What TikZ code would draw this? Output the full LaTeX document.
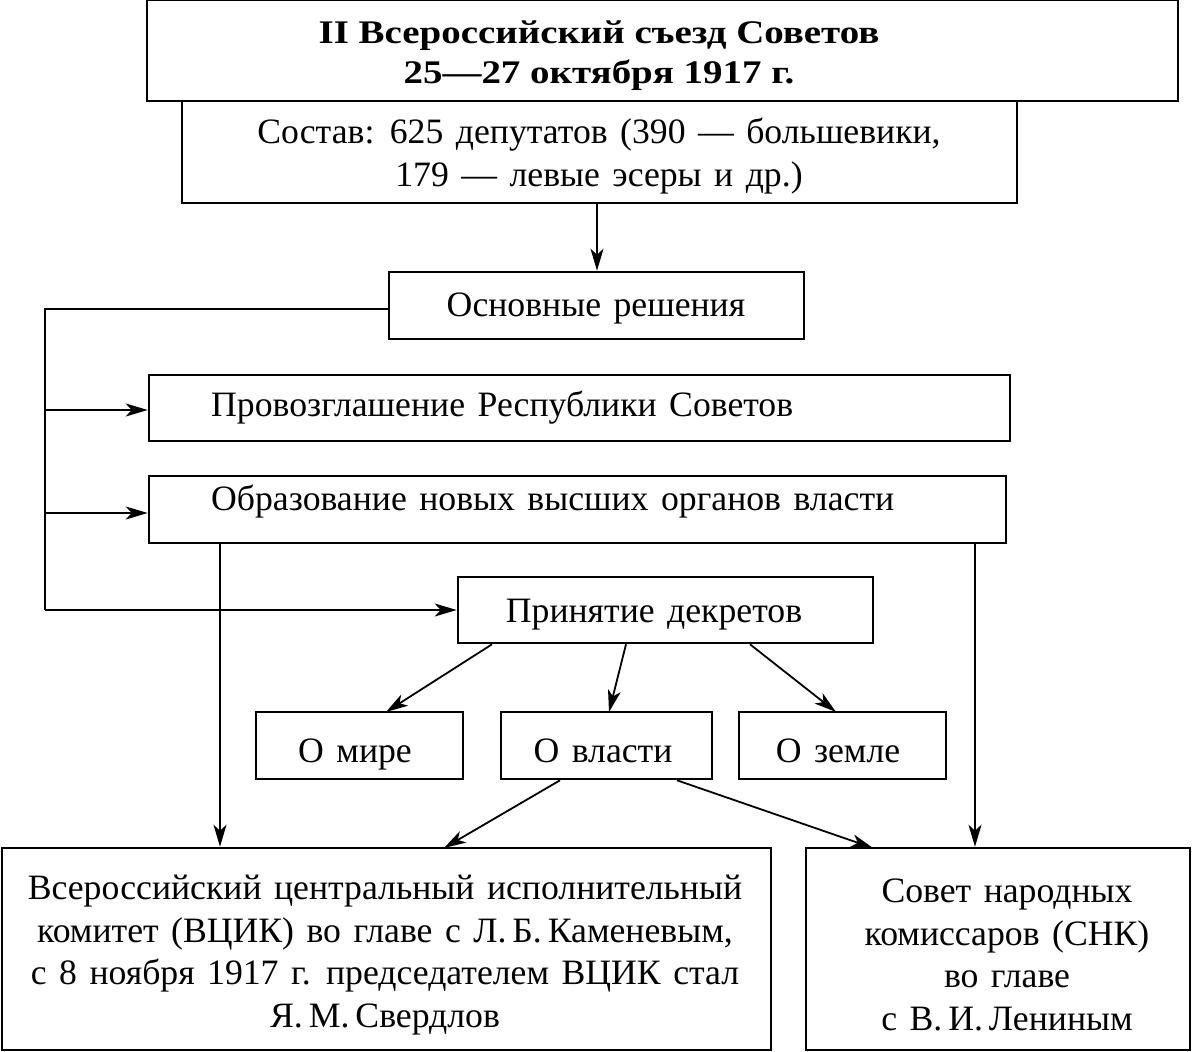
\documentclass[tikz,border=0pt]{standalone}
\usepackage{fontspec}
\setmainfont{Liberation Serif}[WordSpace=1.4]
\newfontfamily\titlefont{Liberation Serif}[FakeStretch=1.18,Ligatures=TeX]
\usetikzlibrary{arrows.meta}
\begin{document}
\begin{tikzpicture}[x=1pt,y=-1pt,
  box/.style={draw,line width=2.6pt,inner sep=0pt,align=center},
  lbl/.style={inner sep=0pt,align=center,font=\fontsize{35.7}{42.5}\selectfont},
  conn/.style={line width=1.8pt,-{Stealth[length=22pt,width=13pt,inset=6pt]}},
  plain/.style={line width=1.8pt}]
\useasboundingbox (0,0) rectangle (1192,1052);
% boxes
\node[box,minimum width=1031pt,minimum height=101pt] (title) at (662.5,50.5) {};
\node[lbl,font=\fontsize{33}{40}\titlefont\bfseries] (titlet) at (599,56) {II Всероссийский съезд Советов\\25—27 октября 1917 г.};
\node[box,minimum width=835pt,minimum height=102pt] (sost) at (599.5,152) {};
\node[lbl] (sostt) at (599,156) {Состав: 625 депутатов (390 --- большевики,\\179 --- левые эсеры и др.)};
\node[box,minimum width=415pt,minimum height=67pt] (osn) at (596.5,305.5) {};
\node[lbl,anchor=base] (osnt) at (596,316) {Основные решения};
\node[box,minimum width=861pt,minimum height=66pt] (prov) at (579.5,408) {};
\node[lbl,anchor=base west] (provt) at (211,416) {Провозглашение Республики Советов};
\node[box,minimum width=857pt,minimum height=67pt] (obr) at (577.5,509.5) {};
\node[lbl,anchor=base west] (obrt) at (211,510) {Образование новых высших органов власти};
\node[box,minimum width=415pt,minimum height=66pt] (prin) at (665.5,610) {};
\node[lbl,anchor=base] (print) at (654,622) {Принятие декретов};
\node[box,minimum width=207pt,minimum height=67pt] (mir) at (359.5,745.5) {};
\node[lbl,anchor=base] (mirt) at (355,762) {О мире};
\node[box,minimum width=211pt,minimum height=67pt] (vl) at (606.5,745.5) {};
\node[lbl,anchor=base] (vlt) at (603,762) {О власти};
\node[box,minimum width=207pt,minimum height=67pt] (zem) at (842.5,745.5) {};
\node[lbl,anchor=base] (zemt) at (838,762) {О земле};
\node[box,minimum width=769pt,minimum height=202pt] (vcik) at (386.5,949) {};
\node[lbl] (vcikt) at (385,955) {Всероссийский центральный исполнительный\\комитет (ВЦИК) во главе с Л.\,Б.\,Каменевым,\\с 8 ноября 1917 г. председателем ВЦИК стал\\Я.\,М.\,Свердлов};
\node[box,minimum width=384pt,minimum height=202pt] (snk) at (998,949) {};
\node[lbl] (snkt) at (1007,955) {Совет народных\\комиссаров (СНК)\\во главе\\с В.\,И.\,Лениным};
% connectors
\draw[conn] (sost.south -| 597,0) -- (osn.north -| 597,0);
\coordinate (lt) at (45,309);
\coordinate (lb) at (45,610);
\draw[plain] (osn.west |- 0,309) -- (lt) -- (lb);
\draw[conn] (lb) -- (prin.west);
\draw[conn] (45,410) -- (prov.west |- 0,410);
\draw[conn] (45,513) -- (obr.west |- 0,513);
\draw[conn] (obr.south -| 220,0) -- (vcik.north -| 220,0);
\draw[conn] (obr.south -| 975,0) -- (snk.north -| 975,0);
\draw[conn] (prin.south -| 492,0) -- (386,712);
\draw[conn] (prin.south -| 626,0) -- (609,712);
\draw[conn] (prin.south -| 750,0) -- (836,712);
\draw[conn] (vl.south -| 560,0) -- (444,848);
\draw[conn] (vl.south -| 677,0) -- (873,848);
\end{tikzpicture}
\end{document}
